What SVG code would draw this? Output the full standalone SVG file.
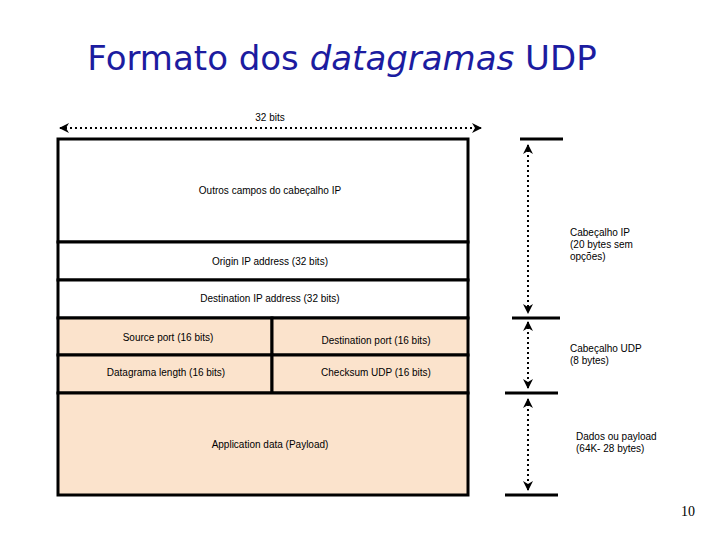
<svg xmlns="http://www.w3.org/2000/svg" width="720" height="540" viewBox="0 0 720 540">
<style>
.t{font-family:"Liberation Sans",Arial,sans-serif;font-size:10px;fill:#000}
.b{stroke:#000;stroke-width:3}
.w{fill:#fff}
.p{fill:#fbe3cc}
.d{stroke:#000;stroke-width:2;stroke-dasharray:2,3;fill:none}
</style>
<defs>
<marker id="a" viewBox="0 0 10 10" refX="9" refY="5" markerWidth="5" markerHeight="5" orient="auto-start-reverse"><path d="M0,0L10,5L0,10L3,5z" fill="#000"/></marker>
</defs>
<rect width="720" height="540" fill="#fff"/>
<text x="342" y="70" text-anchor="middle" font-family="'DejaVu Sans',sans-serif" font-size="34" fill="#1c1ca0">Formato dos <tspan font-style="italic">datagramas</tspan> UDP</text>
<g id="ipother"><rect x="58" y="139" width="410" height="103" class="b w"/><text class="t" x="270" y="194" text-anchor="middle">Outros campos do cabeçalho IP</text></g>
<g id="origin"><rect x="58" y="242" width="410" height="38" class="b w"/><text class="t" x="270" y="265" text-anchor="middle">Origin IP address (32 bits)</text></g>
<g id="dest"><rect x="58" y="280" width="410" height="38" class="b w"/><text class="t" x="270" y="302" text-anchor="middle">Destination IP address (32 bits)</text></g>
<g id="srcport"><rect x="58" y="318" width="214" height="37" class="b p"/><text class="t" x="168" y="341" text-anchor="middle">Source port (16 bits)</text></g>
<g id="dstport"><rect x="272" y="318" width="196" height="37" class="b p"/><text class="t" x="376" y="344" text-anchor="middle">Destination port (16 bits)</text></g>
<g id="len"><rect x="58" y="355" width="214" height="38" class="b p"/><text class="t" x="166" y="376" text-anchor="middle">Datagrama length (16 bits)</text></g>
<g id="chk"><rect x="272" y="355" width="196" height="38" class="b p"/><text class="t" x="376" y="376" text-anchor="middle">Checksum UDP (16 bits)</text></g>
<g id="payload"><rect x="58" y="393" width="410" height="102" class="b p"/><text class="t" x="270" y="448" text-anchor="middle">Application data  (Payload)</text></g>
<g id="labels">
<text class="t" x="270" y="121" text-anchor="middle">32 bits</text>
<text class="t" x="570" y="236">Cabeçalho IP</text>
<text class="t" x="570" y="248">(20 bytes sem</text>
<text class="t" x="570" y="260">opções)</text>
<text class="t" x="570" y="352">Cabeçalho UDP</text>
<text class="t" x="570" y="364">(8 bytes)</text>
<text class="t" x="576" y="440">Dados ou payload</text>
<text class="t" x="576" y="452">(64K- 28 bytes)</text>
<text x="688" y="516" text-anchor="middle" font-family="'Liberation Serif',serif" font-size="14">10</text>
</g>
<g id="connectors">
<line x1="520" y1="139" x2="563" y2="139" class="b"/>
<line x1="512" y1="318" x2="560" y2="318" class="b"/>
<line x1="505" y1="393" x2="558" y2="393" class="b"/>
<line x1="505" y1="495" x2="558" y2="495" class="b"/>
<path d="M60,128H481" class="d" marker-start="url(#a)" marker-end="url(#a)"/>
<path d="M528,145V313" class="d" marker-start="url(#a)" marker-end="url(#a)"/>
<path d="M528,322V388" class="d" marker-start="url(#a)" marker-end="url(#a)"/>
<path d="M528,399V490" class="d" marker-start="url(#a)" marker-end="url(#a)"/>
</g>
</svg>
